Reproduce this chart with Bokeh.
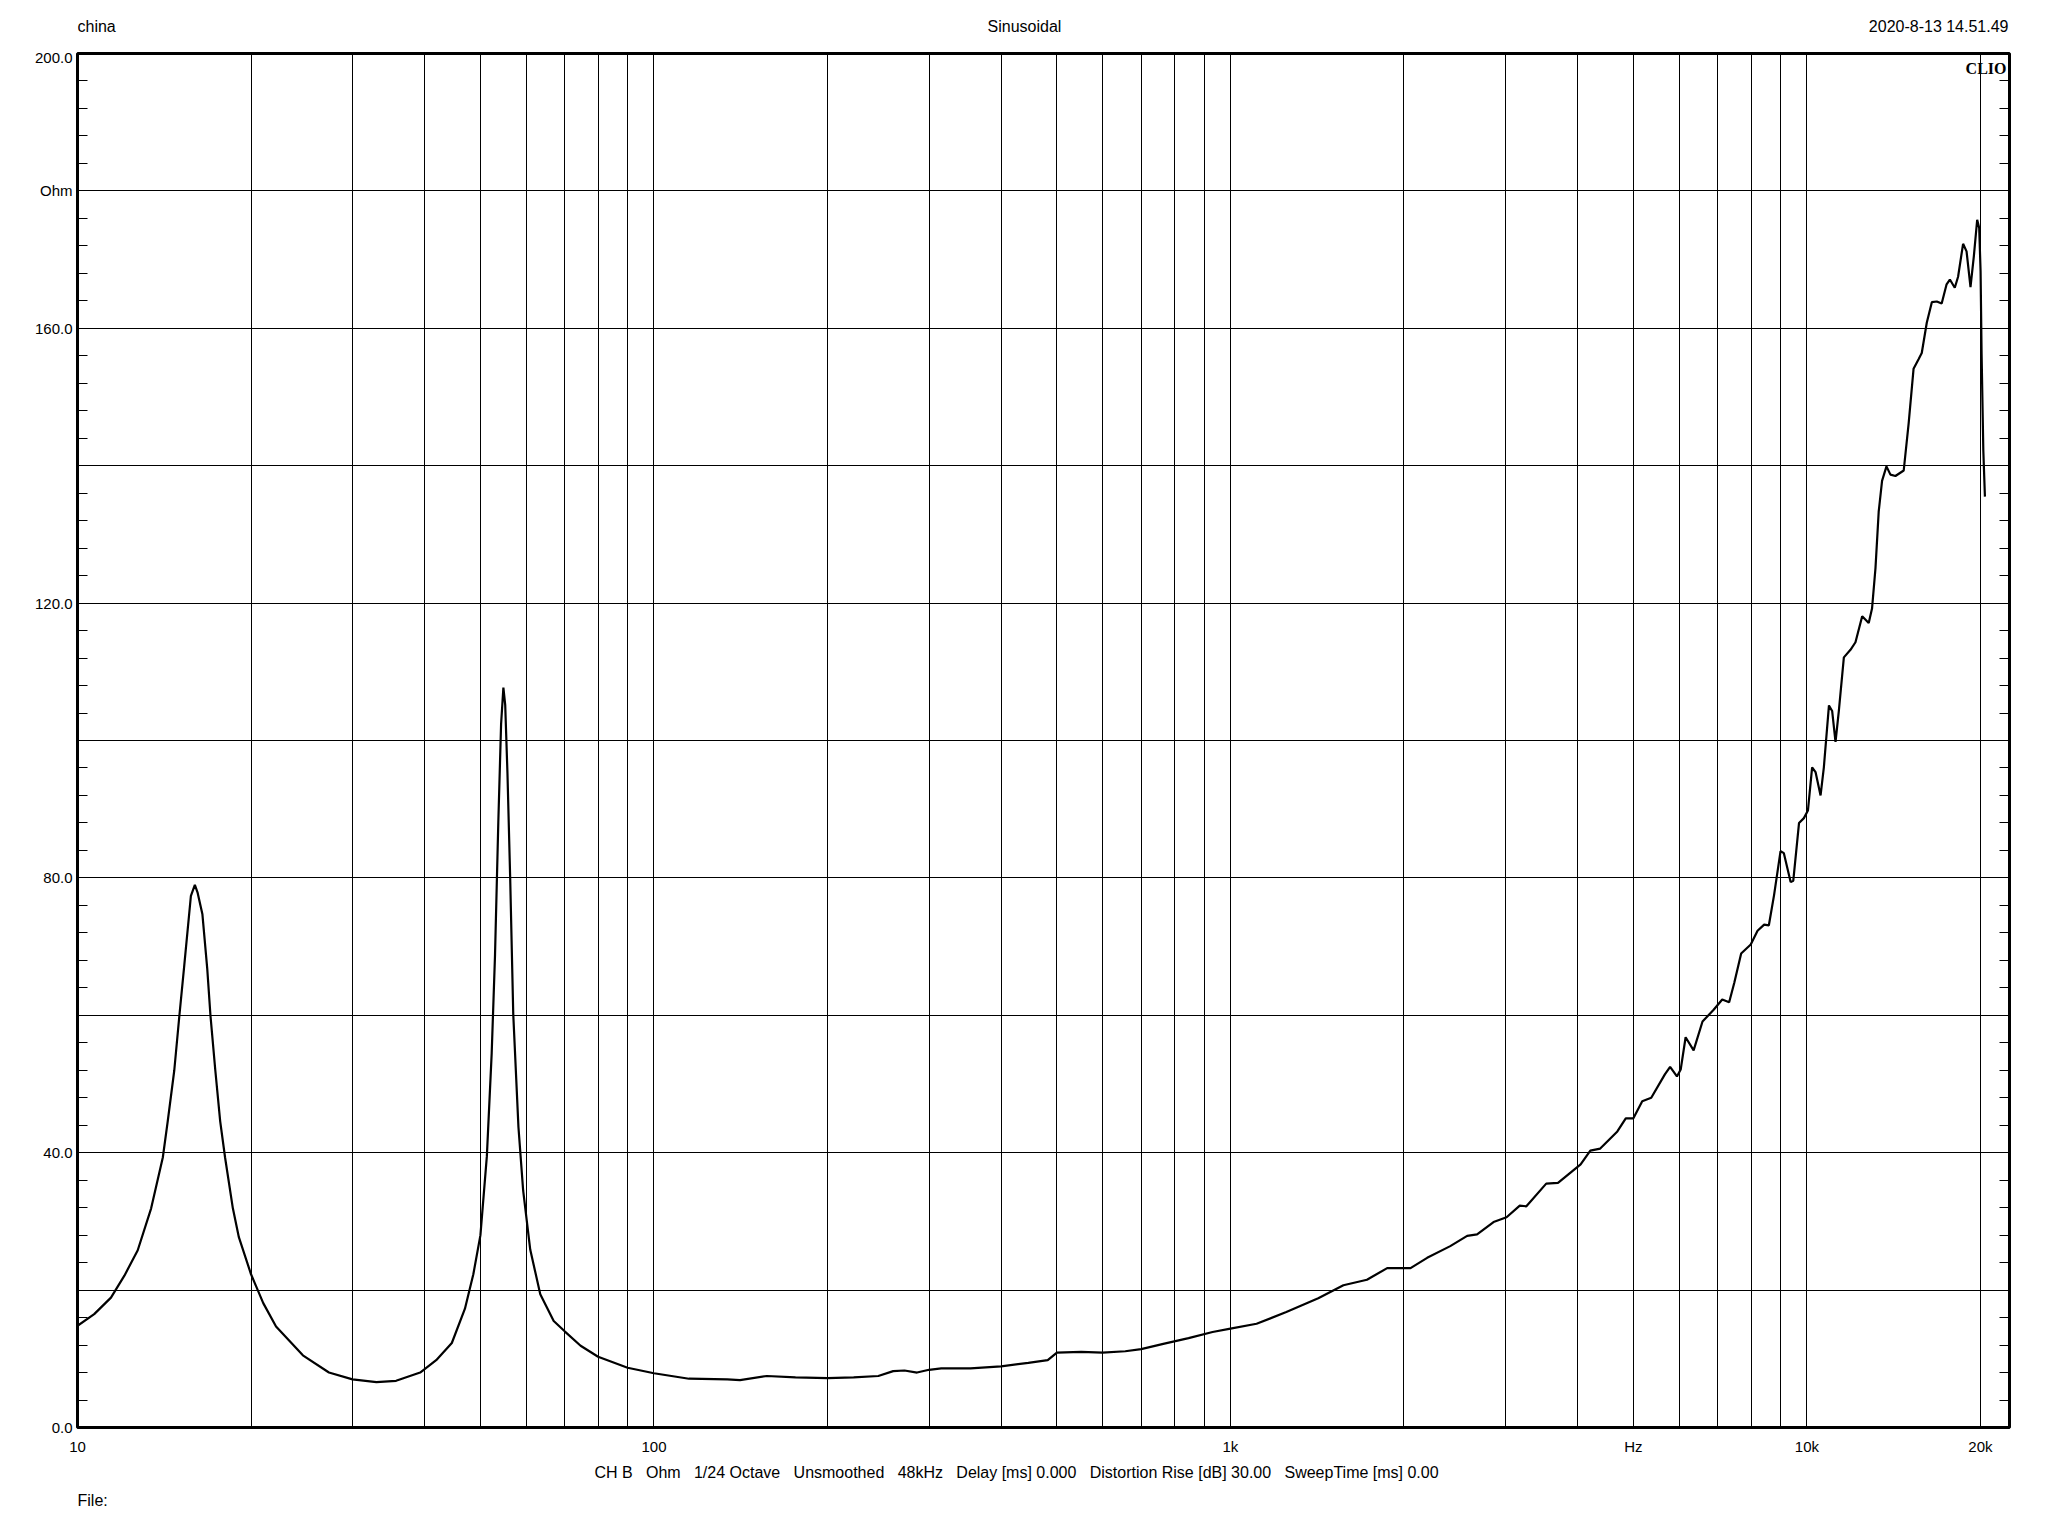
from bokeh.plotting import figure
from bokeh.layouts import column
from bokeh.models import FixedTicker, LinearAxis, Label, Range1d
from bokeh.embed import file_html
from bokeh.resources import INLINE

# ---- data (frequency in Hz, impedance in Ohm) ----
freq_hz = [
    10, 10.69, 11.43, 12.06, 12.72, 13.42, 14.06, 14.34, 14.72, 15.02, 15.32, 15.73,
    15.98, 16.15, 16.47, 16.79, 17.01, 17.34, 17.68, 18.03, 18.6, 19.05, 20, 21.0,
    22.1, 24.6, 27.3, 30, 33.0, 35.7, 39.3, 41.9, 44.6, 47.0, 48.6, 50, 51.3, 52.3,
    53.0, 53.7, 54.3, 54.8, 55.2, 55.7, 56.3, 57.0, 58.2, 59.3, 61.0, 63.5, 67.0,
    70, 74.6, 80, 90, 100, 115, 134, 141, 157, 176, 200, 222, 245, 260, 272, 286,
    300, 315, 354, 400, 446, 482, 500, 551, 600, 657, 700, 768, 846, 931, 1000,
    1110, 1250, 1420, 1570, 1725, 1870, 2053, 2194, 2406, 2574, 2678, 2860, 3013,
    3176, 3261, 3530, 3700, 3890, 4050, 4210, 4380, 4690, 4850, 5000, 5180, 5370,
    5670, 5790, 5950, 6040, 6160, 6360, 6590, 6890, 7130, 7330, 7480, 7690, 7990,
    8210, 8430, 8590, 8770, 9000, 9120, 9370, 9470, 9690, 9880, 10040, 10210,
    10350, 10560, 10700, 10920, 11060, 11210, 11360, 11590, 11900, 12140, 12470,
    12800, 12970, 13150, 13320, 13500, 13740, 13960, 14240, 14720, 15010, 15310,
    15620, 15820, 16140, 16470, 16800, 17130, 17470, 17700, 18050, 18290, 18660,
    18920, 19220, 19480, 19740, 19900, 20010, 20090, 20230, 20360,
]
impedance_ohm = [
    14.8, 16.5, 18.9, 22.1, 25.8, 31.9, 39.3, 44.6, 52.0, 59.9, 67.3, 77.4,
    79.0, 77.9, 74.7, 66.8, 59.9, 52.0, 44.6, 39.3, 31.9, 27.7, 22.3, 18.1,
    14.7, 10.5, 8.0, 7.0, 6.6, 6.8, 8.0, 9.8, 12.3, 17.3, 22.3, 28.0, 39.5, 54.5,
    68.8, 88.1, 102.4, 107.7, 105.2, 95.2, 80.2, 60.2, 43.7, 34.5, 25.9, 19.4, 15.5,
    14.0, 11.9, 10.3, 8.7, 7.9, 7.1, 7.0, 6.9, 7.5, 7.3, 7.2, 7.3, 7.5, 8.2, 8.3, 8.0,
    8.4, 8.6, 8.6, 8.9, 9.4, 9.8, 10.9, 11.0, 10.9, 11.1, 11.4, 12.2, 13.0, 13.9, 14.4,
    15.1, 16.8, 18.8, 20.7, 21.5, 23.2, 23.2, 24.7, 26.4, 27.9, 28.1, 29.9, 30.6,
    32.3, 32.2, 35.5, 35.6, 37.1, 38.3, 40.3, 40.6, 43.1, 45.0, 45.0, 47.5, 48.0,
    51.4, 52.5, 51.1, 52.1, 56.8, 54.9, 59.1, 60.8, 62.3, 61.9, 64.7, 69.0, 70.3,
    72.3, 73.2, 73.1, 77.5, 83.9, 83.6, 79.4, 79.6, 88.0, 88.7, 89.8, 96.1,
    95.4, 92.0, 96.1, 105.1, 104.3, 99.8, 104.3, 112.1, 113.2, 114.3, 118.1,
    117.1, 119.2, 125.1, 133.3, 137.8, 139.9, 138.7, 138.5, 139.3, 146.1, 154.1,
    155.5, 156.4, 160.8, 163.8, 163.9, 163.6, 166.4, 167.1, 165.9, 167.5, 172.3,
    171.2, 166.0, 170.5, 175.8, 174.6, 168.3, 156.4, 142.2, 135.5,
]

y_label_ticks = [0, 40, 80, 120, 160, 180, 200]
y_label_text = ["0.0", "40.0", "80.0", "120.0", "160.0", "Ohm", "200.0"]
y_grid_values = list(range(0, 201, 20))
y_minor_values = [v for v in range(0, 201, 4) if v % 20 != 0]

x_label_ticks = [10, 100, 1000, 5000, 10000, 20000]
x_label_text = ["10", "100", "1k", "Hz", "10k", "20k"]
x_grid_values = ([20, 30, 40, 50, 60, 70, 80, 90, 100,
                  200, 300, 400, 500, 600, 700, 800, 900, 1000,
                  2000, 3000, 4000, 5000, 6000, 7000, 8000, 9000, 10000, 20000])

header_left = "china"
header_center = "Sinusoidal"
header_right = "2020-8-13 14.51.49"
brand = "CLIO"
footer_info = ("CH B \u00a0 Ohm \u00a0 1/24 Octave \u00a0 Unsmoothed \u00a0 48kHz \u00a0 "
               "Delay [ms] 0.000 \u00a0 Distortion Rise [dB] 30.00 \u00a0 SweepTime [ms] 0.00")
footer_file = "File:"

FONT = "Liberation Sans"
FS = "15px"
FS_TXT = "16px"
W = 2040
LEFT = 77
HEAD_H = 48
TOP_PAD = 5
FW, FH = 1932, 1374
MAIN_BOTTOM = 33
FOOT_H = 60


def text_strip(height):
    # frame of the strip is aligned with the main frame (page x 77..2009),
    # so its x range is expressed in page pixels
    f = figure(width=W, height=height, x_range=Range1d(LEFT, LEFT + FW),
               y_range=Range1d(0, height),
               min_border=0, output_backend="svg", toolbar_location=None,
               background_fill_color="white", border_fill_color="white")
    f.axis.visible = False
    f.grid.visible = False
    f.outline_line_color = None
    return f


def lab(fig, text, x, y, align="left", font=FONT, size=FS_TXT, style="normal", units="data"):
    fig.add_layout(Label(x=x, y=y, x_units=units, y_units=units, text=text,
                         text_font=font, text_font_size=size, text_font_style=style,
                         text_align=align, text_baseline="alphabetic", text_color="black"))


# header strip
head = text_strip(HEAD_H)
lab(head, header_left, 77, HEAD_H - 26)
lab(head, header_center, 1024, HEAD_H - 26, align="center")
lab(head, header_right, 2008, HEAD_H - 26, align="right")

# main plot
p = figure(x_axis_type="log", x_range=Range1d(10, 22460), y_range=Range1d(0, 200),
           frame_width=FW, frame_height=FH,
           min_border_left=LEFT, min_border_right=W - LEFT - FW, min_border_top=TOP_PAD,
           min_border_bottom=MAIN_BOTTOM,
           output_backend="svg", toolbar_location=None,
           background_fill_color="white", border_fill_color="white")
p.outline_line_color = "black"
p.outline_line_width = 3

p.xgrid.ticker = FixedTicker(ticks=x_grid_values)
p.ygrid.ticker = FixedTicker(ticks=y_grid_values)
for g in (p.xgrid, p.ygrid):
    g.grid_line_color = "black"
    g.grid_line_width = 1
    g.grid_line_alpha = 1.0

xa = p.xaxis[0]
xa.ticker = FixedTicker(ticks=x_label_ticks)
xa.major_label_overrides = {t: s for t, s in zip(x_label_ticks, x_label_text)}
xa.axis_line_color = None
xa.major_tick_in = 0
xa.major_tick_out = 0
xa.minor_tick_in = 0
xa.minor_tick_out = 0
xa.major_label_standoff = 10
xa.major_label_text_font = FONT
xa.major_label_text_font_size = FS
xa.major_label_text_color = "black"

ya = p.yaxis[0]
ya.ticker = FixedTicker(ticks=y_label_ticks, minor_ticks=y_minor_values)
ya.major_label_overrides = {t: s for t, s in zip(y_label_ticks, y_label_text)}
ya.axis_line_color = None
ya.major_tick_in = 0
ya.major_tick_out = 0
ya.minor_tick_in = 10
ya.minor_tick_out = 0
ya.minor_tick_line_color = "black"
ya.minor_tick_line_width = 1
ya.major_label_standoff = 5
ya.major_label_text_font = FONT
ya.major_label_text_font_size = FS
ya.major_label_text_color = "black"

ra = LinearAxis(ticker=FixedTicker(ticks=[], minor_ticks=y_minor_values))
ra.axis_line_color = None
ra.major_tick_in = 0
ra.major_tick_out = 0
ra.minor_tick_in = 10
ra.minor_tick_out = 0
ra.minor_tick_line_color = "black"
ra.major_label_text_color = None
p.add_layout(ra, "right")

p.line(freq_hz, impedance_ohm, line_color="black", line_width=2.2)

lab(p, brand, FW - 3, FH - 15, align="right", font="Liberation Serif", size="16px",
    style="bold", units="screen")

# footer strip
foot = text_strip(FOOT_H)
lab(foot, footer_info, 1016, FOOT_H - 12, align="center")
lab(foot, footer_file, 77, FOOT_H - 40)

layout = column(head, p, foot, spacing=0)
open("out.html", "w").write(file_html(layout, INLINE))
